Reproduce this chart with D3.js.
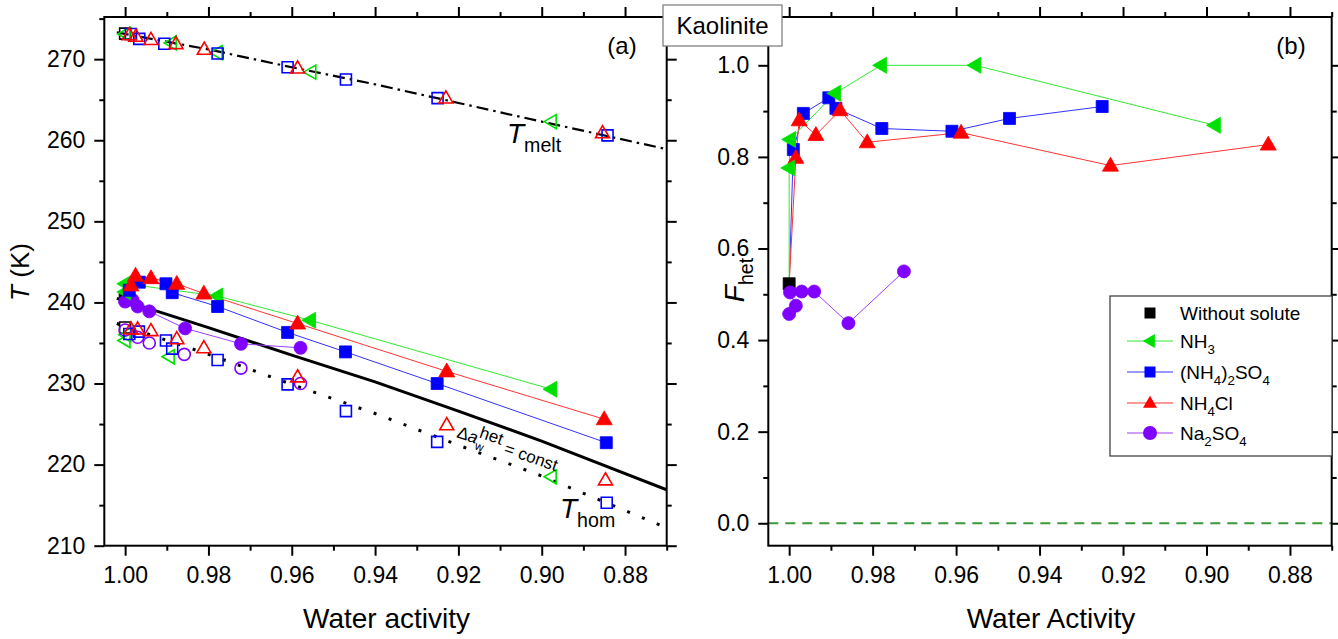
<!DOCTYPE html>
<html><head><meta charset="utf-8">
<script src="https://cdn.jsdelivr.net/npm/d3@7"></script>
<style>body{margin:0;background:#fff} svg{display:block} text{font-family:"Liberation Sans",Arial,sans-serif;fill:#000}</style>
</head><body><svg id="c" width="1338" height="639"></svg>
<script>
// ---------------- DATA ----------------
// Panel (a): reference curves
const tmeltAw = [1.002, 0.98, 0.96, 0.94, 0.92, 0.90, 0.87];
const tmeltT  = [273.3, 271.2, 269.0, 266.9, 264.6, 262.3, 258.9];
const thomAw  = [1.002, 0.98, 0.96, 0.94, 0.92, 0.90, 0.87];
const thomT   = [237.4, 233.6, 229.9, 226.3, 222.4, 218.6, 212.2];
const hetAw   = [1.002, 0.98, 0.96, 0.94, 0.92, 0.90, 0.87];
const hetT    = [240.5, 236.9, 233.5, 230.2, 226.6, 222.9, 216.9];

// Panel (a): heterogeneous freezing (filled)
const pureHetAw = [1.0], pureHetT = [240.6];
const nh3HetAw = [1.0, 1.0, 0.9779, 0.9556, 0.8977];
const nh3HetT  = [241.3, 242.3, 240.8, 237.8, 229.3];
const asHetAw  = [0.999, 0.9966, 0.9902, 0.9887, 0.9778, 0.961, 0.9471, 0.9251, 0.8845];
const asHetT   = [241.5, 242.5, 242.3, 241.2, 239.5, 236.3, 233.9, 230.0, 222.7];
const clHetAw  = [0.9986, 0.9975, 0.9938, 0.9876, 0.9811, 0.9586, 0.9228, 0.885];
const clHetT   = [242.1, 243.3, 243.0, 242.3, 241.1, 237.4, 231.5, 225.6];
const naHetAw  = [1.0, 0.9982, 0.997, 0.9942, 0.9856, 0.9722, 0.9579];
const naHetT   = [240.1, 240.3, 239.5, 238.9, 236.8, 234.9, 234.4];

// Panel (a): melting (open)
const pureMeltAw = [1.0], pureMeltT = [273.15];
const nh3MeltAw = [1.0, 0.9889, 0.9779, 0.9554, 0.8977];
const nh3MeltT  = [273.1, 272.0, 270.8, 268.4, 262.3];
const asMeltAw  = [0.9986, 0.9966, 0.9906, 0.9778, 0.961, 0.947, 0.925, 0.8842];
const asMeltT   = [273.1, 272.5, 271.9, 270.7, 269.0, 267.5, 265.2, 260.6];
const clMeltAw  = [0.999, 0.9974, 0.9938, 0.9878, 0.981, 0.9586, 0.923, 0.8854];
const clMeltT   = [273.0, 272.8, 272.4, 271.9, 271.2, 268.9, 265.2, 260.9];

// Panel (a): homogeneous freezing (open)
const pureHomAw = [1.0], pureHomT = [236.9];
const nh3HomAw = [0.9998, 1.0, 0.9894, 0.8977];
const nh3HomT  = [236.0, 235.3, 233.3, 218.5];
const asHomAw  = [0.999, 0.9967, 0.9902, 0.9887, 0.9778, 0.961, 0.947, 0.9251, 0.8844];
const asHomT   = [236.1, 236.4, 235.3, 234.3, 232.9, 229.9, 226.6, 222.8, 215.3];
const clHomAw  = [0.9986, 0.997, 0.9938, 0.9876, 0.9811, 0.9586, 0.9228, 0.8847];
const clHomT   = [236.7, 236.7, 236.5, 235.5, 234.4, 230.8, 224.9, 218.1];
const naHomAw  = [1.0, 0.997, 0.9942, 0.9858, 0.9722, 0.9579];
const naHomT   = [236.6, 235.7, 235.0, 233.6, 231.9, 230.0];

// Panel (b): F_het
const pureFAw = [1.0], pureF = [0.523];
const nh3FAw = [1.0, 1.0, 0.9998, 0.989, 0.978, 0.9554, 0.898];
const nh3F   = [0.523, 0.776, 0.838, 0.939, 1.0, 1.0, 0.869];
const asFAw  = [1.0, 0.999, 0.9966, 0.9905, 0.9888, 0.9778, 0.961, 0.9472, 0.925];
const asF    = [0.523, 0.816, 0.895, 0.929, 0.906, 0.862, 0.856, 0.884, 0.910];
const clFAw  = [1.0, 0.9984, 0.9976, 0.9936, 0.9878, 0.9813, 0.9588, 0.923, 0.8852];
const clF    = [0.523, 0.798, 0.880, 0.848, 0.902, 0.832, 0.853, 0.781, 0.827];
const naFAw  = [1.0, 0.9984, 0.9998, 0.997, 0.994, 0.9858, 0.9725];
const naF    = [0.457, 0.475, 0.504, 0.506, 0.506, 0.437, 0.550];

// Ticks
const xMajor = [1.00, 0.98, 0.96, 0.94, 0.92, 0.90, 0.88];
const xMinor = [0.99, 0.97, 0.95, 0.93, 0.91, 0.89, 0.87];
const yAMajor = [210, 220, 230, 240, 250, 260, 270];
const yAMinor = [215, 225, 235, 245, 255, 265, 275];
const yBMajor = [0.0, 0.2, 0.4, 0.6, 0.8, 1.0];
const yBMinor = [0.1, 0.3, 0.5, 0.7, 0.9];

const legendNames = ["Without solute", "NH3", "(NH4)2SO4", "NH4Cl", "Na2SO4"];

// ---------------- STYLE / LAYOUT ----------------
const C = {pure:"#000000", nh3:"#00e000", as:"#0000ff", cl:"#ff0000", na:"#8000ff"};
const LC = {nh3:"#33e833", as:"#3333ff", cl:"#ff3333", na:"#9a40ff"};
const A = {l:104.3, r:666.7, t:17, b:545.7};
const B = {l:768.3, r:1331.7, t:17, b:545.7};
const svg = d3.select("#c");

const xA = d3.scaleLinear().domain([1.005, 0.870]).range([A.l, A.r]);
const yA = d3.scaleLinear().domain([210, 275.2]).range([A.b, A.t]);
const xB = d3.scaleLinear().domain([1.005, 0.870]).range([B.l, B.r]);
const yB = d3.scaleLinear().domain([-0.049, 1.1055]).range([B.b, B.t]);

function shape(type, s) {
  const h = s * 0.866;
  switch (type) {
    case "square": return `M${-s/2},${-s/2}h${s}v${s}h${-s}Z`;
    case "tri": return `M0,${-h*0.6}L${s/2},${h*0.4}L${-s/2},${h*0.4}Z`;
    case "ltri": return `M${-h*0.6},0L${h*0.4},${-s/2}L${h*0.4},${s/2}Z`;
    case "circle": { const r = s/2; return `M${r},0A${r},${r} 0 1,1 ${-r},0A${r},${r} 0 1,1 ${r},0Z`; }
  }
}
const FS = {square:12, tri:16, ltri:16, circle:13};
const OS = {square:11, tri:14, ltri:14, circle:12};

function zip(a, b) { return a.map((v, i) => [v, b[i]]); }

function rich(sel, parts, fs) {
  let cur = 0;
  parts.forEach(p => {
    const [s, k, dx] = p;
    const t = sel.append("tspan").text(s);
    let target = 0, size = fs;
    if (k === "sub") { target = fs * 0.32; size = fs * 0.7; }
    if (k === "sup") { target = -fs * 0.42; size = fs; }
    if (k === "i") t.attr("font-style", "italic");
    t.attr("font-size", size).attr("dy", target - cur);
    if (dx) t.attr("dx", dx);
    cur = target;
  });
}

function axes(x, y, P, yMaj, yMin, yFmt) {
  const g = svg.append("g");
  const lbl = s => s.selectAll("text").attr("font-size", 23).attr("fill", "#000");
  const st = s => { s.select(".domain").remove(); s.selectAll("line").attr("stroke", "#000").attr("stroke-width", 2); };
  g.append("g").attr("transform", `translate(0,${P.b})`)
    .call(d3.axisBottom(x).tickValues(xMajor).tickSize(10).tickPadding(11).tickFormat(d3.format(".2f"))).call(st).call(lbl);
  g.append("g").attr("transform", `translate(0,${P.b})`)
    .call(d3.axisBottom(x).tickValues(xMinor).tickSize(5).tickFormat("")).call(st);
  g.append("g").attr("transform", `translate(0,${P.t})`)
    .call(d3.axisTop(x).tickValues(xMajor).tickSize(10).tickFormat("")).call(st);
  g.append("g").attr("transform", `translate(0,${P.t})`)
    .call(d3.axisTop(x).tickValues(xMinor).tickSize(5).tickFormat("")).call(st);
  g.append("g").attr("transform", `translate(${P.l},0)`)
    .call(d3.axisLeft(y).tickValues(yMaj).tickSize(10).tickPadding(9).tickFormat(yFmt)).call(st).call(lbl);
  g.append("g").attr("transform", `translate(${P.l},0)`)
    .call(d3.axisLeft(y).tickValues(yMin).tickSize(5).tickFormat("")).call(st);
  g.append("g").attr("transform", `translate(${P.r},0)`)
    .call(d3.axisRight(y).tickValues(yMaj).tickSize(10).tickFormat("")).call(st);
  g.append("g").attr("transform", `translate(${P.r},0)`)
    .call(d3.axisRight(y).tickValues(yMin).tickSize(5).tickFormat("")).call(st);
  g.append("rect").attr("x", P.l).attr("y", P.t).attr("width", P.r - P.l).attr("height", P.b - P.t)
    .attr("fill", "none").attr("stroke", "#000").attr("stroke-width", 2);
}

function clipFor(id, P) {
  svg.append("clipPath").attr("id", id).append("rect")
    .attr("x", P.l).attr("y", P.t).attr("width", P.r - P.l).attr("height", P.b - P.t);
}
clipFor("ca", A); clipFor("cb", B);

function pts(g, x, y, data, type, color, filled) {
  g.selectAll(null).data(data).enter().append("path")
    .attr("transform", d => `translate(${x(d[0])},${y(d[1])})`)
    .attr("d", shape(type, filled ? FS[type] : OS[type]))
    .attr("fill", filled ? color : "none")
    .attr("stroke", color).attr("stroke-width", filled ? 0.8 : 1.6);
}
function line(g, x, y, data, color, w, dash) {
  const p = g.append("path").datum(data)
    .attr("d", d3.line().x(d => x(d[0])).y(d => y(d[1])))
    .attr("fill", "none").attr("stroke", color).attr("stroke-width", w);
  if (dash) p.attr("stroke-dasharray", dash);
  return p;
}

// ---------------- PANEL (a) ----------------
const ga = svg.append("g").attr("clip-path", "url(#ca)");
line(ga, xA, yA, zip(tmeltAw, tmeltT), "#000", 2.2, "12,5,2.5,5");
line(ga, xA, yA, zip(thomAw, thomT), "#000", 3, "3,13");
line(ga, xA, yA, zip(hetAw, hetT), "#000", 3);
line(ga, xA, yA, zip(nh3HetAw, nh3HetT), LC.nh3, 1);
line(ga, xA, yA, zip(asHetAw, asHetT), LC.as, 1);
line(ga, xA, yA, zip(clHetAw, clHetT), LC.cl, 1);
line(ga, xA, yA, zip(naHetAw, naHetT), LC.na, 1);

// open markers
pts(ga, xA, yA, zip(pureMeltAw, pureMeltT), "square", C.pure, false);
pts(ga, xA, yA, zip(pureHomAw, pureHomT), "square", C.pure, false);
pts(ga, xA, yA, zip(nh3MeltAw, nh3MeltT), "ltri", C.nh3, false);
pts(ga, xA, yA, zip(nh3HomAw, nh3HomT), "ltri", C.nh3, false);
pts(ga, xA, yA, zip(naHomAw, naHomT), "circle", C.na, false);
pts(ga, xA, yA, zip(asMeltAw, asMeltT), "square", C.as, false);
pts(ga, xA, yA, zip(asHomAw, asHomT), "square", C.as, false);
pts(ga, xA, yA, zip(clMeltAw, clMeltT), "tri", C.cl, false);
pts(ga, xA, yA, zip(clHomAw, clHomT), "tri", C.cl, false);
// filled markers
pts(ga, xA, yA, zip(pureHetAw, pureHetT), "square", C.pure, true);
pts(ga, xA, yA, zip(naHetAw, naHetT), "circle", C.na, true);
pts(ga, xA, yA, zip(nh3HetAw, nh3HetT), "ltri", C.nh3, true);
pts(ga, xA, yA, zip(asHetAw, asHetT), "square", C.as, true);
pts(ga, xA, yA, zip(clHetAw, clHetT), "tri", C.cl, true);

axes(xA, yA, A, yAMajor, yAMinor, d3.format("d"));

// annotations (a)
{
  const t1 = svg.append("text").attr("x", 507).attr("y", 143);
  rich(t1, [["T", "i"], ["melt", "sub"]], 28);
  const t2 = svg.append("text").attr("x", 560).attr("y", 518);
  rich(t2, [["T", "i"], ["hom", "sub"]], 28);
  const t3 = svg.append("text").attr("transform", "translate(456,437) rotate(19)");
  rich(t3, [["Δ", "n"], ["a", "i"], ["w", "sub"], ["het", "sup", -8], [" = const", "n"]], 17);
  svg.append("text").attr("x", 622).attr("y", 54).attr("text-anchor", "middle").attr("font-size", 24).text("(a)");
  const yl = svg.append("text").attr("transform", "translate(29,272) rotate(-90)").attr("text-anchor", "middle");
  rich(yl, [["T", "i"], [" (K)", "n"]], 26);
  svg.append("text").attr("x", (A.l + A.r) / 2 + 1).attr("y", 628).attr("text-anchor", "middle").attr("font-size", 28).text("Water activity");
}

// ---------------- PANEL (b) ----------------
const gb = svg.append("g").attr("clip-path", "url(#cb)");
gb.append("line").attr("x1", B.l).attr("x2", B.r).attr("y1", yB(0)).attr("y2", yB(0))
  .attr("stroke", "#3a9a3a").attr("stroke-width", 2).attr("stroke-dasharray", "10,7");
line(gb, xB, yB, zip(naFAw, naF), LC.na, 1);
line(gb, xB, yB, zip(asFAw, asF), LC.as, 1);
line(gb, xB, yB, zip(clFAw, clF), LC.cl, 1);
line(gb, xB, yB, zip(nh3FAw, nh3F), LC.nh3, 1);
pts(gb, xB, yB, zip(pureFAw, pureF), "square", C.pure, true);
pts(gb, xB, yB, zip(asFAw.slice(1), asF.slice(1)), "square", C.as, true);
pts(gb, xB, yB, zip(clFAw.slice(1), clF.slice(1)), "tri", C.cl, true);
pts(gb, xB, yB, zip(nh3FAw.slice(1), nh3F.slice(1)), "ltri", C.nh3, true);
pts(gb, xB, yB, zip(naFAw, naF), "circle", C.na, true);

axes(xB, yB, B, yBMajor, yBMinor, d3.format(".1f"));

svg.append("text").attr("x", 1291).attr("y", 54).attr("text-anchor", "middle").attr("font-size", 24).text("(b)");
{
  const yl = svg.append("text").attr("transform", "translate(744,280) rotate(-90)").attr("text-anchor", "middle");
  rich(yl, [["F", "i"], ["het", "sub"]], 28);
  svg.append("text").attr("x", (B.l + B.r) / 2 + 1).attr("y", 628).attr("text-anchor", "middle").attr("font-size", 28).text("Water Activity");
}

// legend
{
  const g = svg.append("g");
  g.append("rect").attr("x", 1110).attr("y", 296).attr("width", 222).attr("height", 160)
    .attr("fill", "#fff").attr("stroke", "#333").attr("stroke-width", 1.2);
  const items = [
    {name: legendNames[0], type: "square", c: C.pure, lc: null, parts: [["Without solute", "n"]]},
    {name: legendNames[1], type: "ltri", c: C.nh3, lc: LC.nh3, parts: [["NH", "n"], ["3", "sub"]]},
    {name: legendNames[2], type: "square", c: C.as, lc: LC.as, parts: [["(NH", "n"], ["4", "sub"], [")", "n"], ["2", "sub"], ["SO", "n"], ["4", "sub"]]},
    {name: legendNames[3], type: "tri", c: C.cl, lc: LC.cl, parts: [["NH", "n"], ["4", "sub"], ["Cl", "n"]]},
    {name: legendNames[4], type: "circle", c: C.na, lc: LC.na, parts: [["Na", "n"], ["2", "sub"], ["SO", "n"], ["4", "sub"]]}
  ];
  const ys = [313, 341, 372, 403, 433];
  items.forEach((it, i) => {
    const y = ys[i];
    if (it.lc) g.append("line").attr("x1", 1127).attr("x2", 1173).attr("y1", y).attr("y2", y).attr("stroke", it.lc).attr("stroke-width", 1);
    g.append("path").attr("transform", `translate(1150,${y})`).attr("d", shape(it.type, it.type === "square" ? 11 : 14)).attr("fill", it.c);
    const t = g.append("text").attr("x", 1180).attr("y", y + 7);
    rich(t, it.parts, 19);
  });
}

// title box
svg.append("rect").attr("x", 663).attr("y", 5).attr("width", 119).attr("height", 41)
  .attr("fill", "#fff").attr("stroke", "#777").attr("stroke-width", 1.2);
svg.append("text").attr("x", 722.5).attr("y", 34).attr("text-anchor", "middle").attr("font-size", 24).text("Kaolinite");
</script></body></html>
